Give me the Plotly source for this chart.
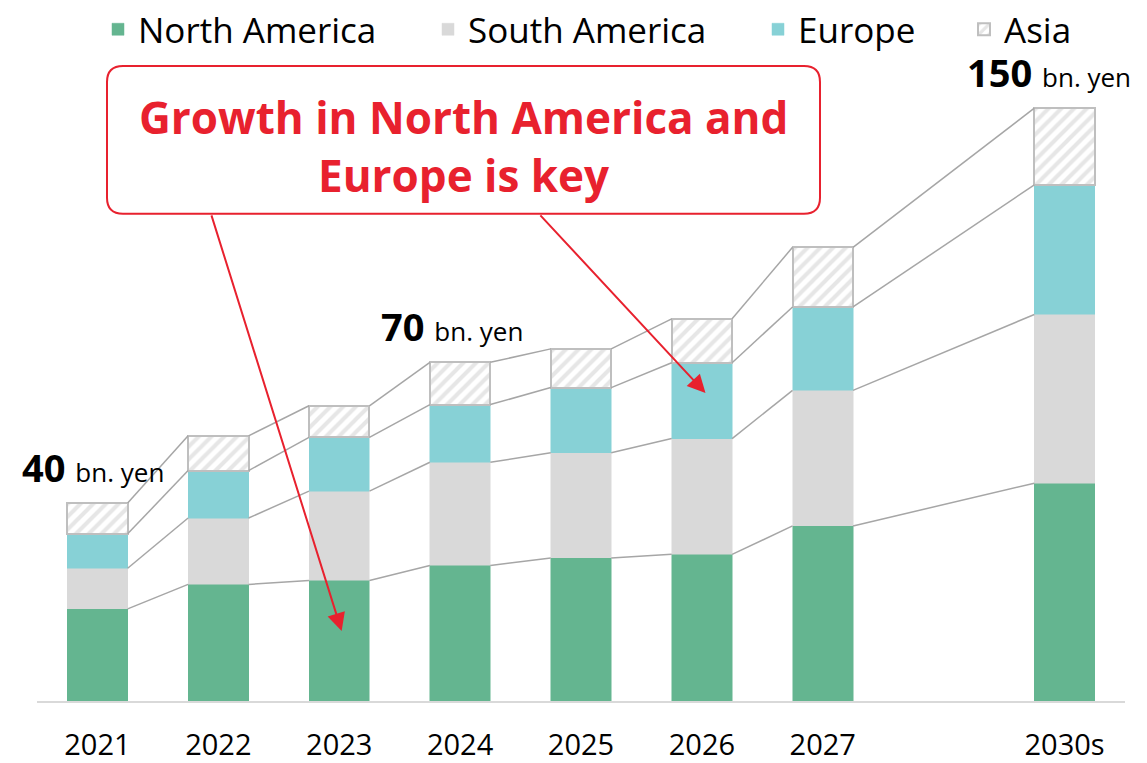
import plotly.graph_objects as go

years = ["2021", "2022", "2023", "2024", "2025", "2026", "2027", "2030s"]
positions = [0, 1, 2, 3, 4, 5, 6, 8]
north_america = [23.3, 29.5, 30.5, 34.3, 36.2, 37.1, 44.3, 55.1]
south_america = [10.3, 16.8, 22.6, 26.1, 26.6, 29.3, 34.3, 42.7]
europe = [8.7, 12.0, 13.6, 14.6, 16.5, 19.2, 21.1, 32.8]
asia = [7.8, 8.8, 8.0, 10.7, 9.8, 11.1, 15.1, 19.4]
total_labels = {"2021": "40", "2024": "70", "2030s": "150"}
callout_lines = ["Growth in North America and", "Europe is key"]

RED = "#e8212e"
BAR_W = 0.5
HW = BAR_W / 2

W, H = 1147, 763
ML, MR, MT, MB = 37, 22, 0, 61.5
PLOT_W = W - ML - MR
PLOT_H = H - MT - MB
XR = [-0.5, 8.5]
PX_X = PLOT_W / (XR[1] - XR[0])
YMAX = PLOT_H / 3.955
PX_Y = PLOT_H / YMAX
BASE = H - MB


def px_to_x(px):
    return XR[0] + (px - ML) / PX_X


def py_to_y(py):
    return (BASE - py) / PX_Y


fig = go.Figure()
series = [
    ("North America", north_america, dict(color="#64b590", line=dict(color="#64b590", width=0.5)), 98),
    ("South America", south_america, dict(color="#d9d9d9", line=dict(color="#d9d9d9", width=0.5)), 428),
    ("Europe", europe, dict(color="#87d1d6", line=dict(color="#87d1d6", width=0.5)), 758),
    ("Asia", asia, dict(color="white", line=dict(color="#bfbfbf", width=2),
                        pattern=dict(shape="/", fgcolor="#cdcdcd", bgcolor="white",
                                     size=9, solidity=0.45)), 964),
]
legend_layout = {}
for k, (name, vals, marker, lx) in enumerate(series):
    lid = "legend" if k == 0 else f"legend{k+1}"
    fig.add_trace(go.Bar(x=positions, y=vals, name=name, width=BAR_W, marker=marker,
                         hoverinfo="skip", legend=lid))
    legend_layout[lid] = dict(x=(lx - ML) / PLOT_W, xanchor="left",
                              y=1.0, yanchor="top",
                              orientation="h", bgcolor="rgba(0,0,0,0)",
                              font=dict(size=35, family="Open Sans", color="#000000"),
                              itemwidth=30)

# connector lines between stack levels
cum = [0.0] * len(years)
for name, vals, _, _ in series:
    cum = [c + v for c, v in zip(cum, vals)]
    xs, ys = [], []
    for i in range(len(years) - 1):
        xs += [positions[i] + HW, positions[i + 1] - HW, None]
        ys += [cum[i], cum[i + 1], None]
    fig.add_trace(go.Scatter(x=xs, y=ys, mode="lines", showlegend=False, hoverinfo="skip",
                             line=dict(color="#a6a6a6", width=1.5)))
totals = cum

label_shift = {"2021": -4, "2024": -8, "2030s": -16}
annotations = []
for yr, lab in total_labels.items():
    i = years.index(yr)
    annotations.append(dict(
        x=positions[i], y=totals[i], xref="x", yref="y", xanchor="center", yanchor="bottom",
        yshift=8, xshift=label_shift[yr], showarrow=False,
        text=f"<b>{lab}</b> <span style='font-size:26px'>bn. yen</span>",
        font=dict(family="Open Sans", size=38, color="#000000")))

# callout box (rounded)
x0, x1 = px_to_x(107), px_to_x(820)
y0, y1 = py_to_y(214), py_to_y(66)
rx, ry = 16 / PX_X, 16 / PX_Y
path = (f"M{x0+rx},{y1} L{x1-rx},{y1} Q{x1},{y1} {x1},{y1-ry} L{x1},{y0+ry} "
        f"Q{x1},{y0} {x1-rx},{y0} L{x0+rx},{y0} Q{x0},{y0} {x0},{y0+ry} "
        f"L{x0},{y1-ry} Q{x0},{y1} {x0+rx},{y1} Z")
shapes = [dict(type="path", path=path, xref="x", yref="y", line=dict(color=RED, width=2),
               fillcolor="white", layer="above")]

cx = (x0 + x1) / 2
for k, line in enumerate(callout_lines):
    annotations.append(dict(x=cx, y=py_to_y(117 if k == 0 else 175), xref="x", yref="y",
                            text=f"<b>{line}</b>", showarrow=False,
                            font=dict(family="Open Sans", size=44, color=RED)))

# arrows
arrows = [
    (px_to_x(211), py_to_y(214), positions[2] + 0.02, north_america[2] * 0.58),
    (px_to_x(539), py_to_y(214), positions[5] + 0.03,
     north_america[5] + south_america[5] + europe[5] * 0.6),
]
for axv, ayv, xv, yv in arrows:
    annotations.append(dict(x=xv, y=yv, ax=axv, ay=ayv, xref="x", yref="y", axref="x", ayref="y",
                            text="", showarrow=True, arrowhead=2, arrowsize=1.8, arrowwidth=2,
                            arrowcolor=RED))

fig.update_layout(
    width=W, height=H,
    barmode="stack",
    plot_bgcolor="white", paper_bgcolor="white",
    margin=dict(l=ML, r=MR, t=MT, b=MB, pad=0),
    font=dict(family="Open Sans", color="#000000"),
    xaxis=dict(range=XR, tickvals=positions, ticktext=years, showgrid=False,
               zeroline=False, showline=True, linecolor="#d9d9d9", linewidth=2,
               ticks="", ticklabelstandoff=17, automargin=False,
               tickfont=dict(size=29, family="Open Sans")),
    yaxis=dict(range=[0, YMAX], visible=False, automargin=False),
    shapes=shapes,
    annotations=annotations,
    showlegend=True,
    **legend_layout,
)

fig.write_html("out.html", config={"displayModeBar": False},
               post_script="document.body.style.margin='0';document.body.style.overflow='hidden';")
